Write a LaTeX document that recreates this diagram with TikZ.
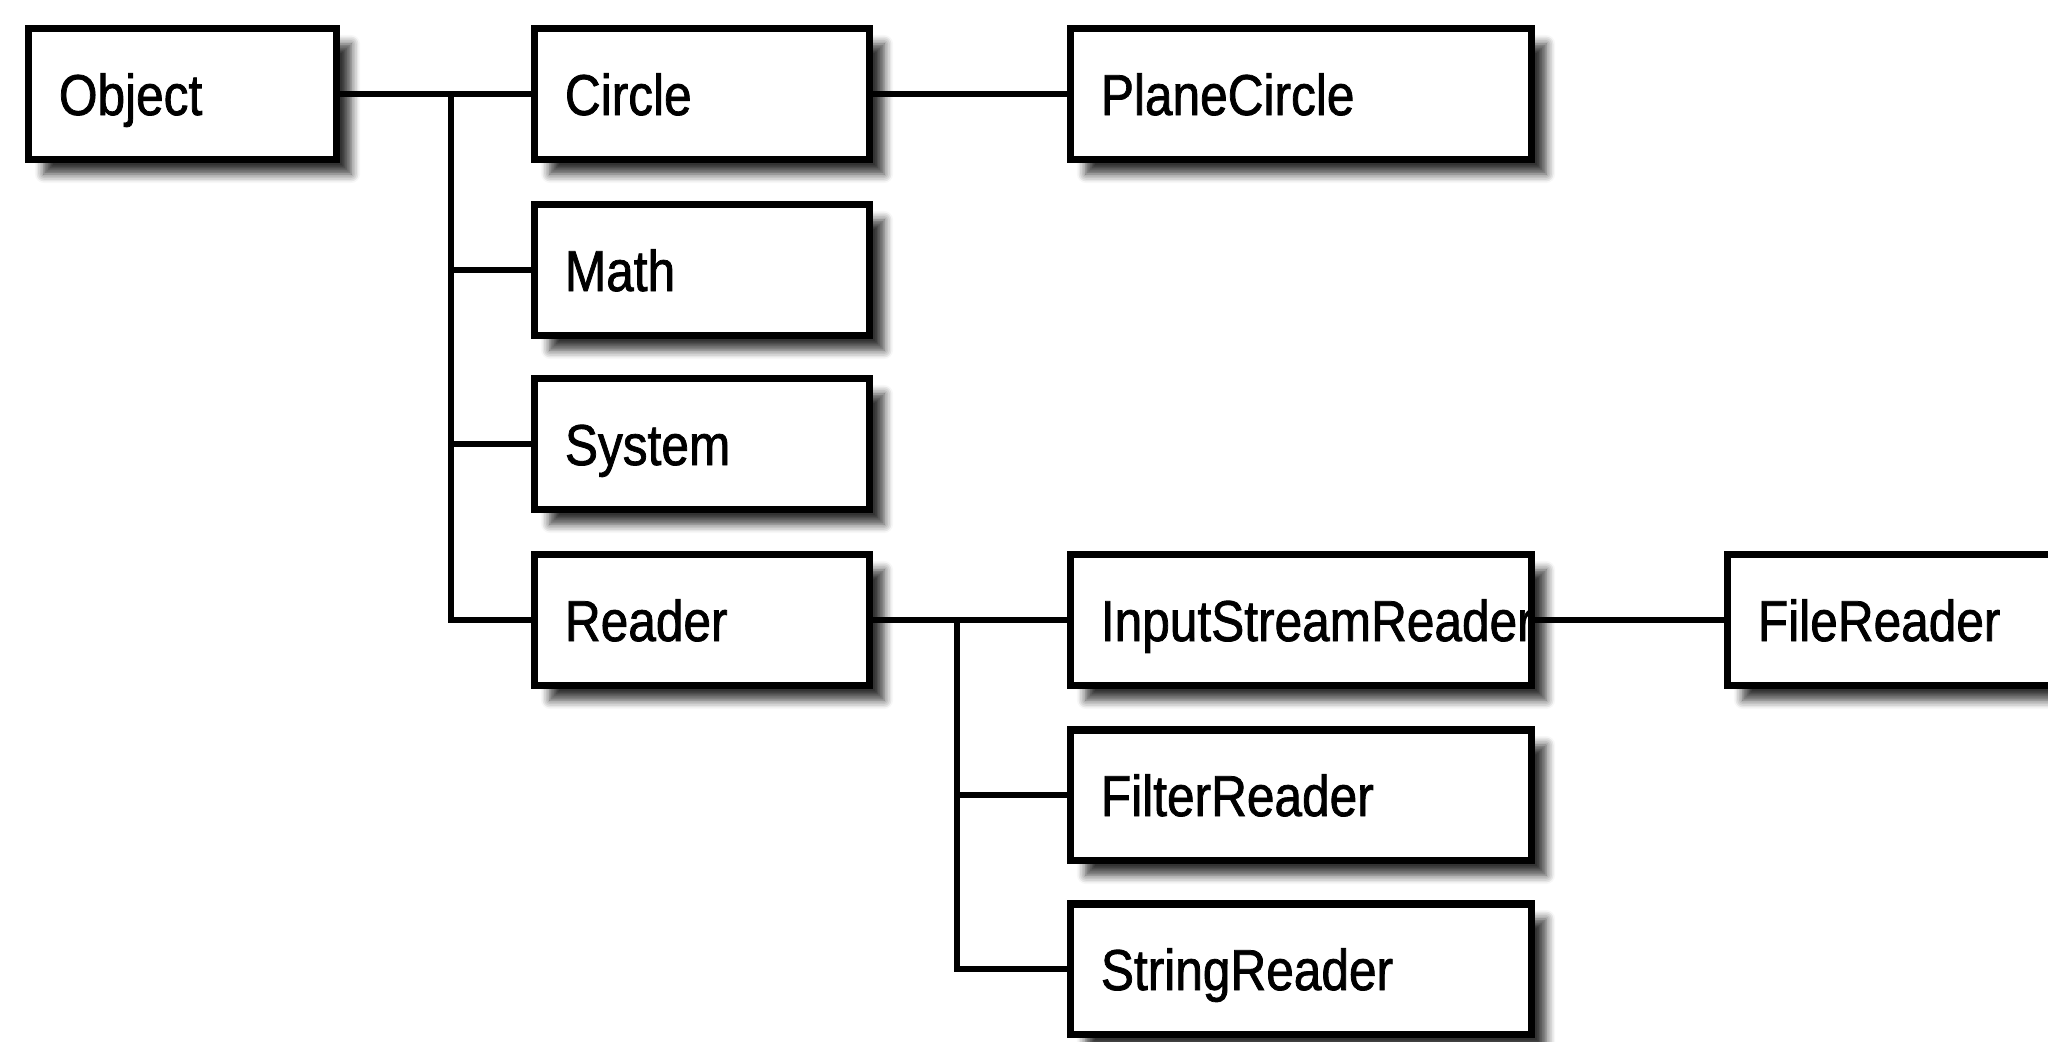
\documentclass[tikz,border=0pt]{standalone}
\usepackage{fontspec}
\usepackage{tikz}
\usetikzlibrary{shadows.blur}
\newfontfamily\classfont{Liberation Sans}[FakeStretch=0.86, FakeBold=1.3]
\tikzset{
  classbox/.style={draw, line width=2pt, fill=white, minimum height=1.3cm,
    inner xsep=0.3cm, inner ysep=0pt, align=left, text width=#1,
    text height=0.42cm, text depth=0cm,
    font=\classfont\fontsize{16.4}{19}\selectfont,
    blur shadow={shadow xshift=0.15cm, shadow yshift=-0.15cm,
      shadow blur radius=0.09cm, shadow blur steps=6, shadow opacity=80}},
  link/.style={line width=1.9pt}
}

\begin{document}
\begin{tikzpicture}[x=0.01cm, y=-0.01cm]
\useasboundingbox (0,0) rectangle (2048,1041);
\clip (0,0) rectangle (2048,1041);
\node[classbox=2.47cm] (object) at (182.5,94) {Object};
\node[classbox=2.74cm] (circle) at (702,94) {Circle};
\node[classbox=4cm] (planecircle) at (1301,94) {PlaneCircle};
\node[classbox=2.74cm] (math) at (702,270) {Math};
\node[classbox=2.74cm] (system) at (702,444) {System};
\node[classbox=2.74cm] (reader) at (702,620) {Reader};
\node[classbox=4cm] (isreader) at (1301,620) {InputStreamReader};
\node[classbox=4cm] (filereader) at (1958,620) {FileReader};
\node[classbox=4cm] (filterreader) at (1301,795) {FilterReader};
\node[classbox=4cm] (stringreader) at (1301,969) {StringReader};
\coordinate (objfork) at (451,94);
\coordinate (readfork) at (957,620);
\draw[link] (object.east) -- (circle.west);
\draw[link] (circle.east) -- (planecircle.west);
\draw[link] (objfork) |- (math.west);
\draw[link] (objfork) |- (system.west);
\draw[link] (objfork) |- (reader.west);
\draw[link] (reader.east) -- (isreader.west);
\draw[link] (isreader.east) -- (filereader.west);
\draw[link] (readfork) |- (filterreader.west);
\draw[link] (readfork) |- (stringreader.west);
\end{tikzpicture}
\end{document}
